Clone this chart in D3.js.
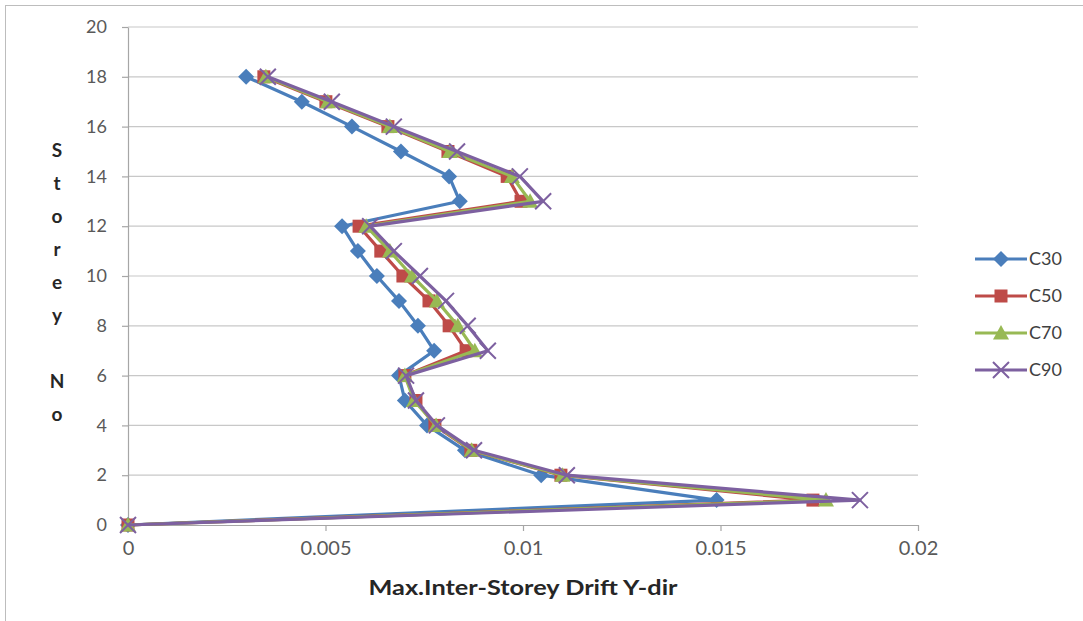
<!DOCTYPE html>
<html>
<head>
<meta charset="utf-8">
<script src="https://cdn.jsdelivr.net/npm/d3@7"></script>
<style>
  body { margin: 0; background: #fff; }
  text { font-family: Lato, "Open Sans", sans-serif; }
</style>
</head>
<body>
<script>
var stories = [0, 1, 2, 3, 4, 5, 6, 7, 8, 9, 10, 11, 12, 13, 14, 15, 16, 17, 18];
var c30 = [0, 0.0149, 0.01046, 0.00853, 0.00757, 0.00701, 0.00686, 0.00775, 0.00734, 0.00686, 0.0063, 0.00582, 0.00542, 0.0084, 0.00813, 0.00691, 0.00567, 0.0044, 0.00299];
var c50 = [0, 0.01734, 0.01096, 0.00868, 0.00777, 0.00729, 0.00701, 0.00856, 0.00813, 0.00762, 0.00696, 0.0064, 0.00585, 0.00995, 0.0096, 0.0081, 0.00658, 0.00501, 0.00344];
var c70 = [0, 0.01767, 0.011, 0.0087, 0.0078, 0.00724, 0.00701, 0.00878, 0.00835, 0.00782, 0.00719, 0.00663, 0.00603, 0.01018, 0.00972, 0.00815, 0.00663, 0.00506, 0.00349];
var c90 = [0, 0.01853, 0.01111, 0.00876, 0.00782, 0.00729, 0.00704, 0.00911, 0.0086, 0.00805, 0.00739, 0.00673, 0.00613, 0.01051, 0.00992, 0.00833, 0.00673, 0.00516, 0.00354];
var seriesNames = ["C30", "C50", "C70", "C90"];
var xTicks = [0, 0.005, 0.01, 0.015, 0.02];
var xTickLabels = ["0", "0.005", "0.01", "0.015", "0.02"];
var yTicks = [0, 2, 4, 6, 8, 10, 12, 14, 16, 18, 20];

var width = 1083,
    height = 621;

var colors = ["#4a7ebb", "#be4b48", "#98b954", "#7d60a0"],
    shapes = ["diamond", "square", "triangle", "cross"];

var series = [c30, c50, c70, c90].map(function(vals, i) {
    return {
        name: seriesNames[i],
        points: vals.map(function(v, j) { return { x: v, y: stories[j] }; })
    };
});

var x = d3.scaleLinear().domain([0, 0.02]).range([128, 918]);
var y = d3.scaleLinear().domain([0, 20]).range([525, 27]);

var svg = d3.select("body")
    .append("svg")
    .attr("width", width)
    .attr("height", height);

svg.append("rect")
    .attr("x", 5.5).attr("y", 5.5)
    .attr("width", width + 10).attr("height", height + 10)
    .attr("fill", "#fff")
    .attr("stroke", "#bdbdbd");

// gridlines
svg.append("g")
    .selectAll("line")
    .data(yTicks.slice(1))
    .enter()
    .append("line")
    .attr("x1", x(0)).attr("x2", x(0.02))
    .attr("y1", function(d) { return y(d); })
    .attr("y2", function(d) { return y(d); })
    .attr("stroke", "#c8c8c8")
    .attr("stroke-width", 1.2);

// axes
var xAxis = svg.append("g")
    .attr("transform", "translate(0," + y(0) + ")")
    .call(d3.axisBottom(x).tickValues(xTicks)
        .tickFormat(function(d, i) { return xTickLabels[i]; })
        .tickSize(6).tickSizeOuter(0).tickPadding(10));

var yAxis = svg.append("g")
    .attr("transform", "translate(" + x(0) + ",0)")
    .call(d3.axisLeft(y).tickValues(yTicks)
        .tickSize(6).tickSizeOuter(0).tickPadding(15));

[xAxis, yAxis].forEach(function(a) {
    a.select(".domain").attr("stroke", "#a6a6a6").attr("stroke-width", 1.2);
    a.selectAll(".tick line").attr("stroke", "#a6a6a6").attr("stroke-width", 1.2);
    a.selectAll(".tick text").attr("fill", "#595959");
});
xAxis.selectAll(".tick text").style("font-size", "20px");
yAxis.selectAll(".tick text").style("font-size", "18px");

// lines
var line = d3.line()
    .x(function(d) { return x(d.x); })
    .y(function(d) { return y(d.y); });

function marker(g, shape, color) {
    if (shape === "diamond") {
        g.append("path").attr("d", "M0,-8L8,0L0,8L-8,0Z").attr("fill", color);
    } else if (shape === "square") {
        g.append("rect").attr("x", -6.5).attr("y", -6.5).attr("width", 13).attr("height", 13).attr("fill", color);
    } else if (shape === "triangle") {
        g.append("path").attr("d", "M0,-8L8,6.5L-8,6.5Z").attr("fill", color);
    } else {
        g.append("path").attr("d", "M-8,-8L8,8M-8,8L8,-8")
            .attr("stroke", color).attr("stroke-width", 2).attr("fill", "none");
    }
}

series.forEach(function(s, i) {
    var g = svg.append("g");
    g.append("path")
        .datum(s.points)
        .attr("d", line)
        .attr("fill", "none")
        .attr("stroke", colors[i])
        .attr("stroke-width", 3.2)
        .attr("stroke-linejoin", "round");
    g.selectAll("g.pt")
        .data(s.points)
        .enter()
        .append("g")
        .attr("class", "pt")
        .attr("transform", function(d) { return "translate(" + x(d.x) + "," + y(d.y) + ")"; })
        .each(function() { marker(d3.select(this), shapes[i], colors[i]); });
});

// legend
var legend = svg.append("g")
    .selectAll("g")
    .data(series)
    .enter()
    .append("g")
    .attr("transform", function(d, i) { return "translate(975," + (259 + i * 37) + ")"; });

legend.append("line")
    .attr("x1", 0).attr("x2", 52)
    .attr("stroke", function(d, i) { return colors[i]; })
    .attr("stroke-width", 3.2);

legend.each(function(d, i) {
    var g = d3.select(this).append("g").attr("transform", "translate(26,0)");
    marker(g, shapes[i], colors[i]);
});

legend.append("text")
    .attr("x", 54)
    .attr("dy", "0.36em")
    .attr("fill", "#404040")
    .style("font-size", "18px")
    .text(function(d) { return d.name; });

// axis titles
svg.append("text")
    .attr("x", (x(0) + x(0.02)) / 2).attr("y", 595)
    .attr("text-anchor", "middle")
    .attr("fill", "#262626")
    .attr("textLength", 309)
    .attr("lengthAdjust", "spacingAndGlyphs")
    .style("font-size", "21px")
    .style("font-weight", "bold")
    .text("Max.Inter-Storey Drift Y-dir");

var yTitle = ["S", "t", "o", "r", "e", "y", "", "N", "o"];
svg.append("text")
    .attr("fill", "#262626")
    .style("font-size", "19px")
    .style("font-weight", "bold")
    .attr("text-anchor", "middle")
    .selectAll("tspan")
    .data(yTitle)
    .enter()
    .append("tspan")
    .attr("x", 57)
    .attr("y", function(d, i) { return 157 + i * 33; })
    .text(function(d) { return d; });
</script>
</body>
</html>
